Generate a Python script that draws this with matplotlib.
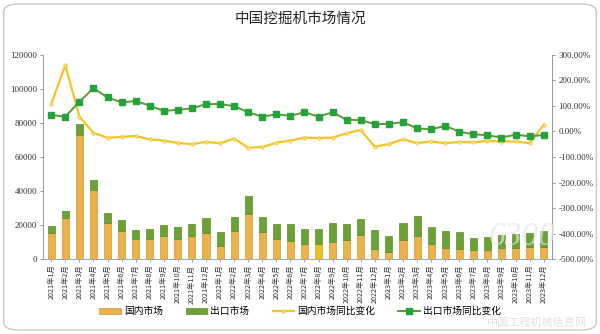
import matplotlib
matplotlib.use('Agg')
import matplotlib.pyplot as plt
from matplotlib.patches import FancyBboxPatch, Rectangle
from matplotlib.ticker import FuncFormatter, MultipleLocator
import numpy as np

plt.rcParams['font.family'] = ['Noto Sans CJK SC', 'DejaVu Sans']
plt.rcParams['hatch.linewidth'] = 0.6
plt.rcParams['hatch.color'] = '#dcdcdc'

# months 2021-01 .. 2023-12
months = [f'{y}年{m}月' for y in (2021, 2022, 2023) for m in range(1, 13)]

domestic = [15600, 24400, 73000, 40700, 21400, 16700, 11800, 11800, 13400, 12000, 13600, 15100,
            7700, 16800, 26400, 15700, 11700, 10400, 9000, 9000, 10200, 11100, 14300, 5900,
            4100, 11200, 13500, 9200, 6500, 5900, 5500, 5500, 6300, 6300, 6900, 7100]
export = [4000, 4100, 6100, 6000, 5900, 6400, 5400, 6200, 6800, 6800, 6900, 9000,
          8200, 7700, 10900, 8900, 9000, 10200, 9000, 8800, 11100, 9400, 9400, 11100,
          9600, 10300, 12100, 9600, 10300, 9800, 7000, 7400, 8000, 8400, 8200, 9700]
# year-on-year change, percent
dom_yoy = [107, 260, 58, -5, -25, -21, -18, -31, -36, -45, -50, -41,
           -46, -28, -64, -61, -44, -36, -24, -26, -24, -7, 5, -60,
           -49, -31, -46, -39, -46, -41, -43, -37, -40, -39, -46, 26]
exp_yoy = [64, 58, 116, 169, 133, 114, 119, 101, 80, 85, 90, 107,
           107, 99, 75, 58, 67, 61, 75, 58, 75, 45, 45, 28,
           30, 36, 12, 8, 22, -1, -11, -15, -24, -13, -19, -14]

serif = ['Liberation Serif', 'DejaVu Serif']

fig = plt.figure(figsize=(6, 3.34), dpi=100)
# card border
fig.patches.append(FancyBboxPatch((0.006, 0.012), 0.988, 0.976, boxstyle='round,pad=0,rounding_size=0.025',
                                  transform=fig.transFigure, facecolor='white', edgecolor='#c8c8c8',
                                  linewidth=1.0, zorder=-10))
fig.text(0.5, 0.945, '中国挖掘机市场情况', ha='center', va='center', fontsize=10.5,
         fontweight='medium', color='#222222')

ax = fig.add_axes([0.072, 0.224, 0.848, 0.612])
ax.set_facecolor('none')
ax.add_patch(Rectangle((0, 0), 1, 1, transform=ax.transAxes, facecolor='white',
                       edgecolor='none', hatch='///', zorder=-1))

x = np.arange(len(months))
b1 = ax.bar(x, domestic, width=0.5, color='#EBB14B', edgecolor='#CF9A35', linewidth=0.5,
            label='国内市场', zorder=2)
b2 = ax.bar(x, export, width=0.5, bottom=domestic, color='#6AA233', edgecolor='#5B8C2B',
            linewidth=0.5, label='出口市场', zorder=2)
b1[19].set_facecolor('#E9C21A')

ax.set_xlim(-0.57, len(months) - 0.41)
ax.set_ylim(0, 120000)
ax.yaxis.set_major_locator(MultipleLocator(20000))
ax.set_xticks(x)
ax.set_xticklabels(months, rotation=90, fontsize=5.2, color='#333333')
for s in ('top', 'right'):
    ax.spines[s].set_visible(False)
ax.spines['left'].set_color('#888888')
ax.spines['bottom'].set_color('#8899aa')
ax.spines['left'].set_linewidth(0.6)
ax.spines['bottom'].set_linewidth(0.6)
ax.tick_params(axis='y', length=2.5, width=0.6, color='#888888', labelsize=6.5, pad=2, labelcolor='#333333')
ax.tick_params(axis='x', length=2, width=0.6, color='#8899aa', pad=2)
for t in ax.get_yticklabels():
    t.set_family(serif)

ax2 = ax.twinx()
l1, = ax2.plot(x, dom_yoy, color='#F6C325', linewidth=1.6, marker='D', markersize=2.2,
               markerfacecolor='#F8DE7A', markeredgecolor='#F6C325', markeredgewidth=0.4,
               label='国内市场同比变化', zorder=3)
l2, = ax2.plot(x, exp_yoy, color='#5E9835', linewidth=1.4, marker='s', markersize=3.8,
               markerfacecolor='#23A43B', markeredgecolor='#23A43B',
               label='出口市场同比变化', zorder=4)
ax2.set_ylim(-500, 300)
ax2.yaxis.set_major_locator(MultipleLocator(100))
ax2.yaxis.set_major_formatter(FuncFormatter(lambda v, p: f'{v:.2f}%'))
for s in ('top', 'left', 'bottom'):
    ax2.spines[s].set_visible(False)
ax2.spines['right'].set_color('#888888')
ax2.spines['right'].set_linewidth(0.6)
ax2.tick_params(axis='y', length=2.5, width=0.6, color='#888888', labelsize=6.5, pad=2, labelcolor='#333333')
for t in ax2.get_yticklabels():
    t.set_family(serif)

fig.legend([b1, b2, l1, l2], ['国内市场', '出口市场', '国内市场同比变化', '出口市场同比变化'],
           loc='center', bbox_to_anchor=(0.5, 0.068), ncol=4, frameon=False, fontsize=7,
           handlelength=2.2, handleheight=0.5, columnspacing=2.4, handletextpad=0.3)

# watermark, kept clear of the tick labels
fig.text(0.87, 0.29, '6300', ha='center', va='center', fontsize=24, style='italic',
         color='#e6e6e6', alpha=0.7, family=serif, zorder=10)
fig.text(0.895, 0.035, '中国工程机械信息网', ha='center', va='center', fontsize=8,
         color='#dedede', alpha=0.9, zorder=10)

fig.savefig('out.png', dpi=100)
